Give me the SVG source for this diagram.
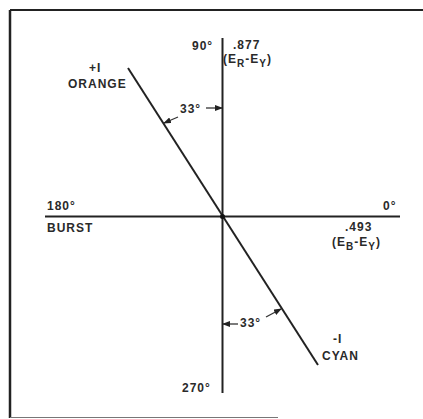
<svg xmlns="http://www.w3.org/2000/svg" width="423" height="419" viewBox="0 0 423 419">
<style>
.t{font-family:"Liberation Sans",Arial,sans-serif;font-size:12px;font-weight:bold;fill:#2a2a2a;letter-spacing:1px}
.s{font-size:10px}
.ax{stroke:#222;stroke-width:2;fill:none}
.ar{stroke:#333;stroke-width:1.3;fill:none}
</style>
<defs>
<marker id="ah" markerWidth="8" markerHeight="6" refX="7" refY="3" orient="auto" markerUnits="userSpaceOnUse">
<path d="M0,0 L8,3 L0,6 Z" fill="#222"/>
</marker>
</defs>
<rect width="423" height="419" fill="#fff"/>
<g id="frame">
<line x1="10" y1="10" x2="423" y2="10" stroke="#222" stroke-width="2"/>
<line x1="10" y1="10" x2="10" y2="418" stroke="#222" stroke-width="2.5"/>
<line x1="10" y1="417.5" x2="278" y2="417.5" stroke="#777" stroke-width="1.2"/>
</g>
<g id="connectors">
<line id="axis-vertical" class="ax" x1="222.5" y1="38" x2="222.5" y2="393"/>
<line id="axis-horizontal" class="ax" x1="45" y1="216.5" x2="400" y2="216.5" stroke-width="2.5"/>
<line id="i-axis" class="ax" x1="128" y1="68" x2="318" y2="365"/>
<line class="ar" x1="178" y1="117" x2="164" y2="123" marker-end="url(#ah)"/>
<line class="ar" x1="206" y1="108" x2="222" y2="108" marker-end="url(#ah)"/>
<line class="ar" x1="238" y1="324" x2="223" y2="324" marker-end="url(#ah)"/>
<line class="ar" x1="266" y1="317" x2="281" y2="309" marker-end="url(#ah)"/>
<circle cx="222.5" cy="216.5" r="2.5" fill="#111"/>
</g>
<g id="label-90">
<text class="t" x="192" y="50">90°</text>
</g>
<g id="label-ry">
<text class="t" x="233" y="49">.877</text>
<text class="t" x="223" y="63">(E<tspan class="s" dy="4">R</tspan><tspan dy="-4">-E</tspan><tspan class="s" dy="4">Y</tspan><tspan dy="-4">)</tspan></text>
</g>
<g id="label-orange">
<text class="t" x="89" y="72">+I</text>
<text class="t" x="68" y="88">ORANGE</text>
</g>
<g id="label-33-top">
<text class="t" x="180" y="113">33°</text>
</g>
<g id="label-180">
<text class="t" x="47" y="210">180°</text>
<text class="t" x="47" y="232">BURST</text>
</g>
<g id="label-0">
<text class="t" x="383" y="210">0°</text>
</g>
<g id="label-by">
<text class="t" x="345" y="231">.493</text>
<text class="t" x="332" y="246">(E<tspan class="s" dy="4">B</tspan><tspan dy="-4">-E</tspan><tspan class="s" dy="4">Y</tspan><tspan dy="-4">)</tspan></text>
</g>
<g id="label-33-bottom">
<text class="t" x="240" y="327">33°</text>
</g>
<g id="label-cyan">
<text class="t" x="333" y="343">-I</text>
<text class="t" x="322" y="360">CYAN</text>
</g>
<g id="label-270">
<text class="t" x="182" y="392">270°</text>
</g>
</svg>
